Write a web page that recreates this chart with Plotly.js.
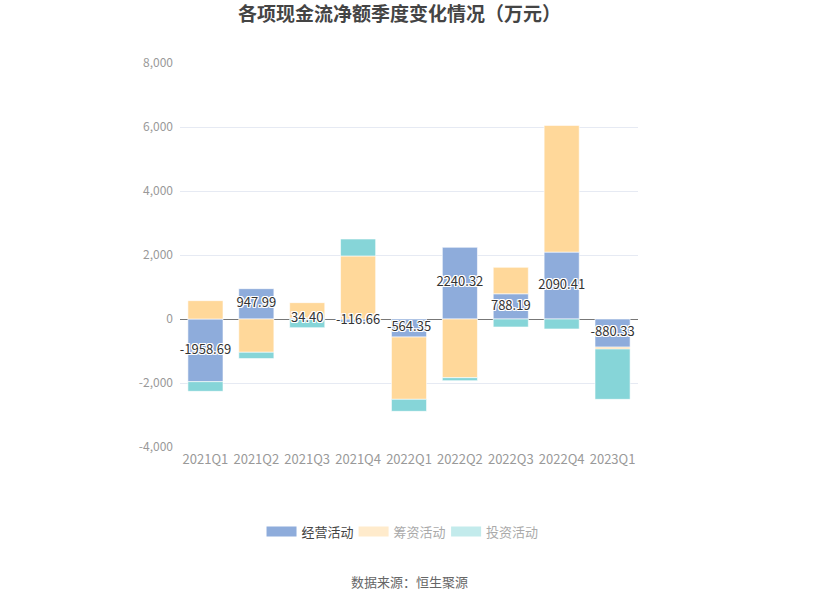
<!DOCTYPE html>
<html>
<head>
<meta charset="utf-8">
<script src="https://cdn.plot.ly/plotly-3.0.1.min.js"></script>
<style>html,body{margin:0;padding:0;background:#fff;}#chart{width:817px;height:603px;}</style>
</head>
<body>
<div id="chart"></div>
<script>
const categories = ['2021Q1','2021Q2','2021Q3','2021Q4','2022Q1','2022Q2','2022Q3','2022Q4','2023Q1'];
const operating = [-1958.69, 947.99, 34.40, -116.66, -564.35, 2240.32, 788.19, 2090.41, -880.33];
const financing = [573, -1040, 476, 1970, -1946, -1833, 827, 3960, -57];
const investing = [-302, -198, -271, 530, -375, -94, -250, -312, -1573];
const seriesNames = ['经营活动', '筹资活动', '投资活动'];
const yTicks = [-4000, -2000, 0, 2000, 4000, 6000, 8000];

const FONT = '"Noto Sans CJK SC", "Noto Sans", sans-serif';
const colors = ['#8eacdb', '#ffd89a', '#86d5d8'];
const legendColors = ['#8eacdb', '#ffebcc', '#c3ebec'];
const legendText = ['#444', '#aaa', '#aaa'];

const values = [operating, financing, investing];
const traces = values.map((v, i) => ({
  type: 'bar', x: categories, y: v, name: seriesNames[i],
  marker: {color: colors[i], line: {color: '#ffffff', width: 0.6}},
  showlegend: false, hoverinfo: 'skip'
}));
// legend entries (separate legends to mimic per-item text colours)
seriesNames.forEach((n, i) => {
  traces.push({
    type: 'scatter', mode: 'lines', x: [null], y: [null], name: n,
    line: {color: legendColors[i], width: 14},
    showlegend: true, legend: i === 0 ? 'legend' : 'legend' + (i + 1), hoverinfo: 'skip'
  });
});
traces.push({
  type: 'scatter', mode: 'text', x: categories,
  y: operating.map(v => v / 2),
  text: operating.map(v => v.toFixed(2)),
  textposition: 'middle center',
  textfont: {family: FONT, size: 13, color: '#333',
    shadow: '1px 1px 0 #fff, -1px -1px 0 #fff, 1px -1px 0 #fff, -1px 1px 0 #fff, 0 1px 0 #fff, 0 -1px 0 #fff, 1px 0 0 #fff, -1px 0 0 #fff'},
  showlegend: false, hoverinfo: 'skip', cliponaxis: false
});

function legendCfg(x, c) {
  return {orientation: 'h', x: x, xanchor: 'left', y: -0.22, yanchor: 'middle',
    font: {family: FONT, size: 13, color: c}, bgcolor: 'rgba(0,0,0,0)',
    itemwidth: 30, tracegroupgap: 0};
}

const layout = {
  width: 817, height: 603,
  margin: {l: 180, r: 179, t: 63, b: 156},
  paper_bgcolor: '#fff', plot_bgcolor: '#fff',
  barmode: 'relative', bargap: 0.31,
  font: {family: FONT},
  title: {text: '<b>各项现金流净额季度变化情况（万元）</b>', x: 0.489, xanchor: 'center', y: 0.977, yanchor: 'middle',
    font: {family: FONT, size: 19, color: '#444'}},
  xaxis: {type: 'category', showgrid: false, zeroline: false, showline: false, ticks: '',
    tickfont: {family: FONT, size: 13, color: '#999'}, ticklabelstandoff: 3},
  yaxis: {range: [-4000, 8000], tickvals: yTicks, ticktext: yTicks.map(v => v.toLocaleString('en-US')),
    showgrid: true, gridcolor: '#e6eaf3', gridwidth: 1,
    zeroline: true, zerolinecolor: '#777', zerolinewidth: 1, showline: false, ticks: '',
    tickfont: {family: FONT, size: 12, color: '#999'}, ticklabelstandoff: 6},
  legend: legendCfg(0.178, legendText[0]),
  legend2: legendCfg(0.379, legendText[1]),
  legend3: legendCfg(0.581, legendText[2]),
  annotations: [{text: '数据来源：恒生聚源', xref: 'paper', yref: 'paper', x: 0.5, y: -0.349,
    xanchor: 'center', yanchor: 'middle', showarrow: false,
    font: {family: FONT, size: 13, color: '#666'}}]
};

Plotly.newPlot('chart', traces, layout, {displayModeBar: false, staticPlot: true});
</script>
</body>
</html>
